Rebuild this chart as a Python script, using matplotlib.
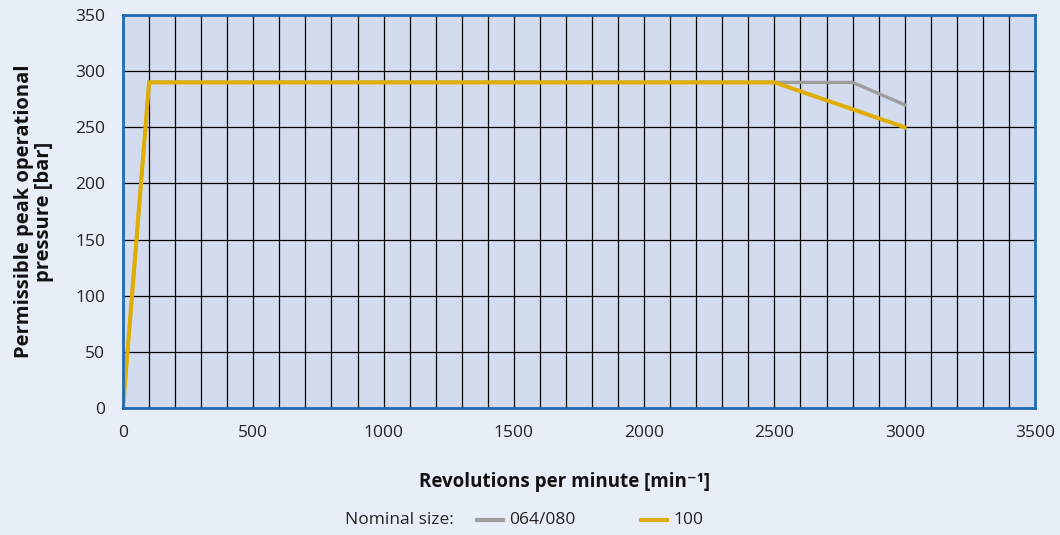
import matplotlib
matplotlib.use("Agg")
import matplotlib.pyplot as plt
from matplotlib.ticker import MultipleLocator
from matplotlib.lines import Line2D

rpm_064 = [0, 100, 2800, 3000]
p_064 = [0, 290, 290, 270]
rpm_100 = [0, 100, 2500, 3000]
p_100 = [0, 290, 290, 250]
labels = ["064/080", "100"]
colors = ['#9E9E9E', '#E0AE00']
x_ticks = [0, 500, 1000, 1500, 2000, 2500, 3000, 3500]
y_ticks = [0, 50, 100, 150, 200, 250, 300, 350]

plt.rcParams['font.family'] = ['Open Sans', 'DejaVu Sans']

W, H = 1060, 535
fig = plt.figure(figsize=(W/100, H/100), dpi=100)
fig.patch.set_facecolor('#E8EEF8')
ax = fig.add_axes([123/W, 1-408/H, (1035-123)/W, (408-15)/H])
ax.set_facecolor('#D3DCEF')

ax.plot(rpm_064, p_064, color=colors[0], lw=2.4, zorder=3, solid_joinstyle='miter')
ax.plot(rpm_100, p_100, color=colors[1], lw=2.9, zorder=4, solid_joinstyle='miter')

ax.set_xlim(0, 3500)
ax.set_ylim(0, 350)
ax.set_xticks(x_ticks)
ax.set_yticks(y_ticks)
ax.xaxis.set_minor_locator(MultipleLocator(100))
ax.grid(which='both', axis='x', color='black', lw=0.9, zorder=1)
ax.grid(which='major', axis='y', color='black', lw=0.9, zorder=1)
ax.set_axisbelow(True)
ax.tick_params(which='both', length=0, labelsize=12.5, colors='#222222')
ax.tick_params(axis='y', pad=13)
ax.tick_params(axis='x', pad=12)
for s in ax.spines.values():
    s.set_color('#1F6BB5')
    s.set_linewidth(2)
    s.set_zorder(5)

ax.set_xlabel('Revolutions per minute [min\u207b\u00b9]', fontsize=13.5, fontweight='bold', color='#111111')
ax.xaxis.label.set_va('center')
ax.xaxis.set_label_coords(0.5 + (564.5 - 579)/912, (408-482)/393)
ax.set_ylabel('Permissible peak operational\npressure [bar]', fontsize=14.5, fontweight='bold', color='#111111',
              linespacing=1.05)
ax.yaxis.label.set_va('center')
ax.yaxis.set_label_coords((34-123)/912, 0.5)

ly = 1 - 520/H
fig.text(345/W, ly, 'Nominal size:', fontsize=12.5, va='center', ha='left', color='#222222')
fig.add_artist(Line2D([477/W, 503/W], [ly, ly], color=colors[0], lw=3, transform=fig.transFigure))
fig.text(509/W, ly, labels[0], fontsize=12.5, va='center', ha='left', color='#222222')
fig.add_artist(Line2D([641/W, 667/W], [ly, ly], color=colors[1], lw=3, transform=fig.transFigure))
fig.text(673/W, ly, labels[1], fontsize=12.5, va='center', ha='left', color='#222222')

fig.savefig('out.png', dpi=100, facecolor=fig.get_facecolor())
